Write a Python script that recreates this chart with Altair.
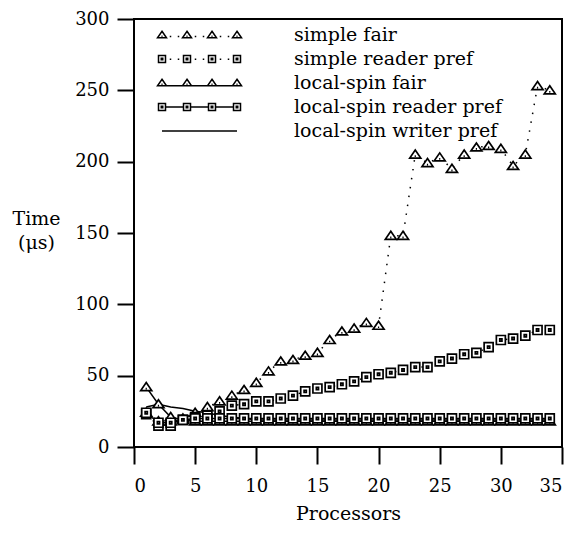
import altair as alt
import pandas as pd

# ---------------- data ----------------
processors = [1, 2, 3, 4, 5, 6, 7, 8, 9, 10, 11, 12, 13, 14, 15, 16, 17,
              18, 19, 20, 21, 22, 23, 24, 25, 26, 27, 28, 29, 30, 31, 32, 33, 34]

simple_fair = [24, 18, 18, 20, 24, 28, 32, 36, 40, 45, 53, 60, 61, 64, 66, 75, 81,
               83, 87, 85, 148, 148, 205, 199, 203, 195, 205, 210, 211, 209, 197, 205, 253, 250]
simple_reader_pref = [23, 15, 15, 19, 21, 22, 25, 29, 30, 32, 32, 34, 36, 39, 41, 42, 44,
                      46, 49, 51, 52, 54, 56, 56, 60, 62, 65, 66, 70, 75, 76, 78, 82, 82]
local_spin_fair = [42, 30, 21, 19, 18, 18, 18, 18, 18, 18, 18, 18, 18, 18, 18, 18, 18,
                   18, 18, 18, 18, 18, 18, 18, 18, 18, 18, 18, 18, 18, 18, 18, 18, 18]
local_spin_reader_pref = [24, 17, 17, 19, 20, 20, 20, 20, 20, 20, 20, 20, 20, 20, 20, 20, 20,
                          20, 20, 20, 20, 20, 20, 20, 20, 20, 20, 20, 20, 20, 20, 20, 20, 20]
local_spin_writer_pref = [28, 30, 28, 27, 25, 24, 22, 21, 20, 19, 19, 19, 19, 19, 19, 19, 19,
                          19, 19, 19, 19, 19, 19, 19, 19, 19, 19, 19, 19, 19, 19, 19, 19, 19]

series_names = ["simple fair", "simple reader pref", "local-spin fair",
                "local-spin reader pref", "local-spin writer pref"]
series_values = [simple_fair, simple_reader_pref, local_spin_fair,
                 local_spin_reader_pref, local_spin_writer_pref]

x_ticks = [0, 5, 10, 15, 20, 25, 30, 35]
y_ticks = [0, 50, 100, 150, 200, 250, 300]

rows = []
for name, vals in zip(series_names, series_values):
    for p, v in zip(processors, vals):
        rows.append({"series": name, "processors": p, "time": v})
df = pd.DataFrame(rows)

# ---------------- symbol shapes ----------------
FONT = "DejaVu Serif"
TRI = "M0,-0.9L1.1,0.7L-1.1,0.7Z M-0.12,0.3L0.12,0.3"
SQR = "M-0.9,-0.9H0.9V0.9H-0.9Z M-0.22,-0.22H0.22V0.22H-0.22Z"

centers = [-7.5, -2.5, 2.5, 7.5]


def tri_at(c):
    return f"M{c},-0.75L{c + 0.9},0.55L{c - 0.9},0.55Z M{c - 0.1},0.25L{c + 0.1},0.25"


def sq_at(c):
    return (f"M{c - 0.7},-0.7H{c + 0.7}V0.7H{c - 0.7}Z "
            f"M{c - 0.15},-0.15H{c + 0.15}V0.15H{c - 0.15}Z")


def dots(y):
    out = ""
    for c in centers[:-1]:
        for a in (c + 1.55, c + 3.15):
            out += f" M{a},{y}L{a + 0.3},{y}"
    return out


def solid(y, half):
    out = ""
    for c in centers[:-1]:
        out += f" M{c + half},{y}L{c + 5 - half},{y}"
    return out


leg_simple_fair = "".join(tri_at(c) + " " for c in centers) + dots(0.3)
leg_simple_reader = "".join(sq_at(c) + " " for c in centers) + dots(0.05)
leg_ls_fair = "".join(tri_at(c) + " " for c in centers) + solid(0.55, 0.9)
leg_ls_reader = "".join(sq_at(c) + " " for c in centers) + solid(0.0, 0.7)
leg_ls_writer = "M-7.5,0L7.5,0"
legend_paths = [leg_simple_fair, leg_simple_reader, leg_ls_fair, leg_ls_reader, leg_ls_writer]

x_enc = alt.X("processors:Q",
              scale=alt.Scale(domain=[0, 35], nice=False),
              axis=alt.Axis(values=x_ticks, title="Processors", labelPadding=13,
                            titlePadding=9, labelAngle=0))
y_enc = alt.Y("time:Q",
              scale=alt.Scale(domain=[0, 300], nice=False),
              axis=alt.Axis(values=y_ticks, title=["Time", "(μs)"], labelPadding=8,
                            titleAngle=0, titleAlign="center", titleBaseline="alphabetic",
                            titleX=-98, titleY=205, titleLineHeight=24))

base = alt.Chart(df)

dotted_lines = base.transform_filter(
    alt.FieldOneOfPredicate(field="series", oneOf=["simple fair", "simple reader pref"])
).mark_line(color="black", strokeWidth=1.5, strokeCap="butt", strokeDash=[1.5, 7.5]).encode(
    x=x_enc, y=y_enc, detail="series:N",
)

solid_lines = base.transform_filter(
    alt.FieldOneOfPredicate(field="series",
                            oneOf=["local-spin fair", "local-spin reader pref",
                                   "local-spin writer pref"])
).mark_line(color="black", strokeWidth=1.5).encode(
    x=x_enc, y=y_enc, detail="series:N",
)

tri_pts = base.transform_filter(
    alt.FieldOneOfPredicate(field="series", oneOf=["simple fair", "local-spin fair"])
).mark_point(shape=TRI, size=100, filled=True, fill="white", stroke="black",
             strokeWidth=1.7, opacity=1).encode(x=x_enc, y=y_enc)

sq_pts = base.transform_filter(
    alt.FieldOneOfPredicate(field="series", oneOf=["simple reader pref", "local-spin reader pref"])
).mark_point(shape=SQR, size=100, filled=True, fill="white", stroke="black",
             strokeWidth=1.7, opacity=1).encode(x=x_enc, y=y_enc)

legend_layer = base.mark_point(
    size=100, color="black", filled=False, strokeWidth=1.5, opacity=0
).encode(
    x=x_enc, y=y_enc,
    shape=alt.Shape("series:N",
                    scale=alt.Scale(domain=series_names, range=legend_paths),
                    legend=alt.Legend(title=None, orient="none", legendX=56, legendY=6.5,
                                      labelOffset=85, rowPadding=4, padding=0,
                                      labelFont=FONT, labelFontSize=19, labelColor="black",
                                      labelLimit=400, symbolSize=100, symbolStrokeWidth=1.5,
                                      symbolStrokeColor="black", symbolFillColor="white",
                                      symbolOpacity=1)),
)

chart = alt.layer(legend_layer, dotted_lines, solid_lines, tri_pts, sq_pts).properties(
    width=428, height=428,
    autosize=alt.AutoSizeParams(type="none"),
    padding={"left": 126, "top": 11, "right": 12, "bottom": 80},
    background="white",
).configure_view(
    stroke="black", strokeWidth=2
).configure_axis(
    domain=False, grid=False, ticks=True, tickSize=17, tickWidth=2, tickColor="black",
    labelFont=FONT, labelFontSize=18, labelColor="black",
    titleFont=FONT, titleFontSize=19, titleFontWeight="normal", titleColor="black",
)

chart.save("out.html", embed_options={"renderer": "svg", "actions": False})
